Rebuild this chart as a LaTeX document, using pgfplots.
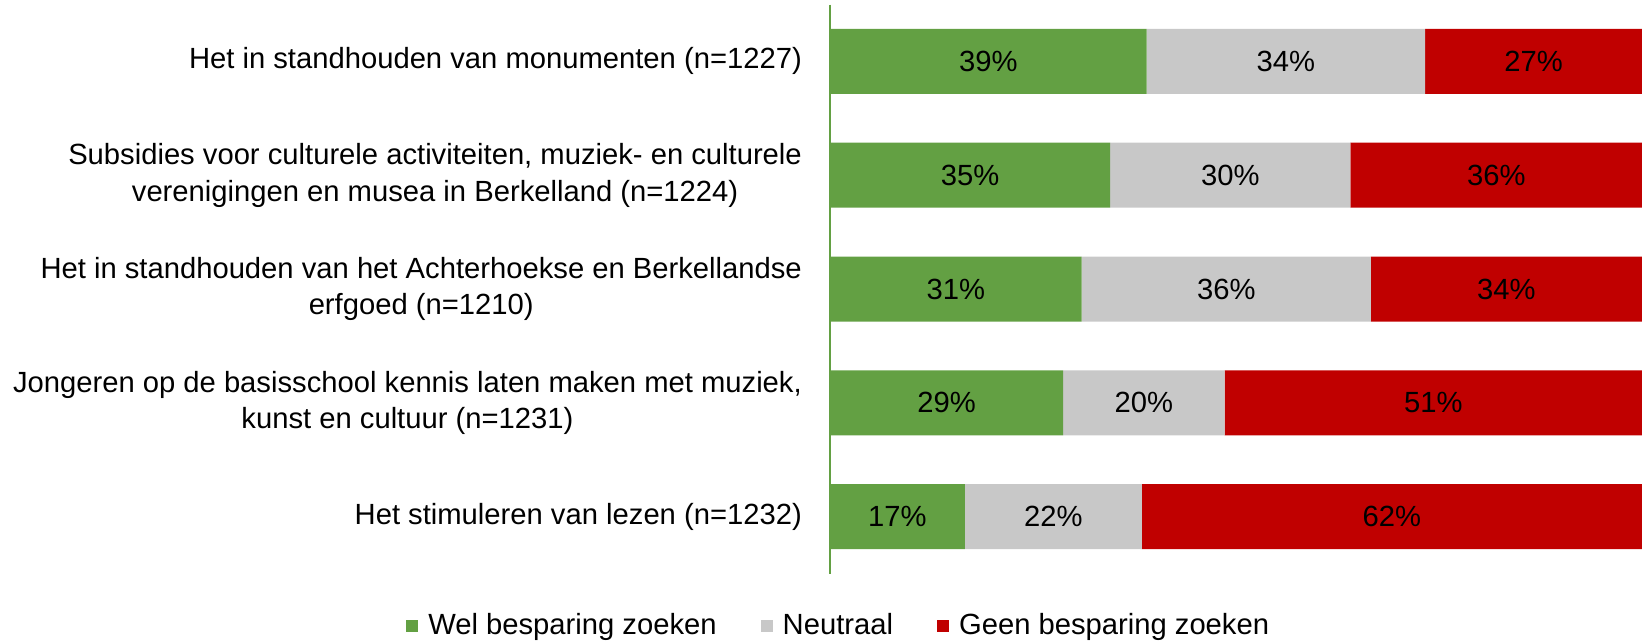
\documentclass[border=0pt]{standalone}
\usepackage{pgfplots}
\pgfplotsset{compat=1.18}
\usepackage{fontspec}
\setmainfont{Liberation Sans}
\definecolor{welgreen}{RGB}{99,160,67}
\definecolor{neutgray}{RGB}{200,200,200}
\definecolor{geenred}{RGB}{192,0,0}
\newcommand\chartfont{\fontsize{14.6}{18.3}\selectfont}
\pgfplotsset{
  base/.style={scale only axis, width=406pt, height=284.5pt,
    xmin=0, xmax=100, ymin=0.5, ymax=5.5, y dir=reverse},
}
\begin{document}
\chartfont
\begin{tikzpicture}
\useasboundingbox (-415pt,-34.75pt) rectangle (407pt,286.75pt);
\begin{axis}[base, xbar stacked, bar width=32.5pt,
    axis x line=none, axis y line*=left, axis line style={welgreen, line width=0.8pt},
    ytick={1,2,3,4,5}, major tick length=0pt,
    yticklabels={{Het in standhouden van monumenten (n=1227)},
      {Subsidies voor culturele activiteiten, muziek- en culturele\\verenigingen en musea in Berkelland (n=1224)},
      {Het in standhouden van het Achterhoekse en Berkellandse\\erfgoed (n=1210)},
      {Jongeren op de basisschool kennis laten maken met muziek,\\kunst en cultuur (n=1231)},
      {Het stimuleren van lezen (n=1232)}},
    yticklabel style={align=center, font=\chartfont, xshift=-9pt},
    legend style={at={(0.012,-0.093)}, anchor=center, draw=none, legend columns=3,
      font=\chartfont, inner sep=0pt,
      /tikz/every odd column/.append style={column sep=3pt},
      /tikz/every even column/.append style={column sep=20pt}},
    legend image code/.code={\fill[#1] (0pt,-3pt) rectangle (6pt,3pt);},
  ]
  \addplot[fill=welgreen, draw=none] coordinates {(39,1) (34.5,2) (31.0,3) (28.7,4) (16.6,5)};
  \addplot[fill=neutgray, draw=none] coordinates {(34.3,1) (29.6,2) (35.6,3) (19.9,4) (21.8,5)};
  \addplot[fill=geenred, draw=none] coordinates {(26.7,1) (35.9,2) (33.4,3) (51.4,4) (61.6,5)};
  \legend{Wel besparing zoeken,Neutraal,Geen besparing zoeken}
\end{axis}
\begin{axis}[base, hide axis]
  \addplot[draw=none, nodes near coords, point meta=explicit symbolic,
    nodes near coords style={anchor=center, font=\chartfont, text=black}]
    coordinates {
    (19.5,1)[39\%] (56.15,1)[34\%] (86.65,1)[27\%]
    (17.25,2)[35\%] (49.3,2)[30\%] (82.05,2)[36\%]
    (15.5,3)[31\%] (48.8,3)[36\%] (83.3,3)[34\%]
    (14.35,4)[29\%] (38.65,4)[20\%] (74.3,4)[51\%]
    (8.3,5)[17\%] (27.5,5)[22\%] (69.2,5)[62\%]};
\end{axis}
\end{tikzpicture}
\end{document}
